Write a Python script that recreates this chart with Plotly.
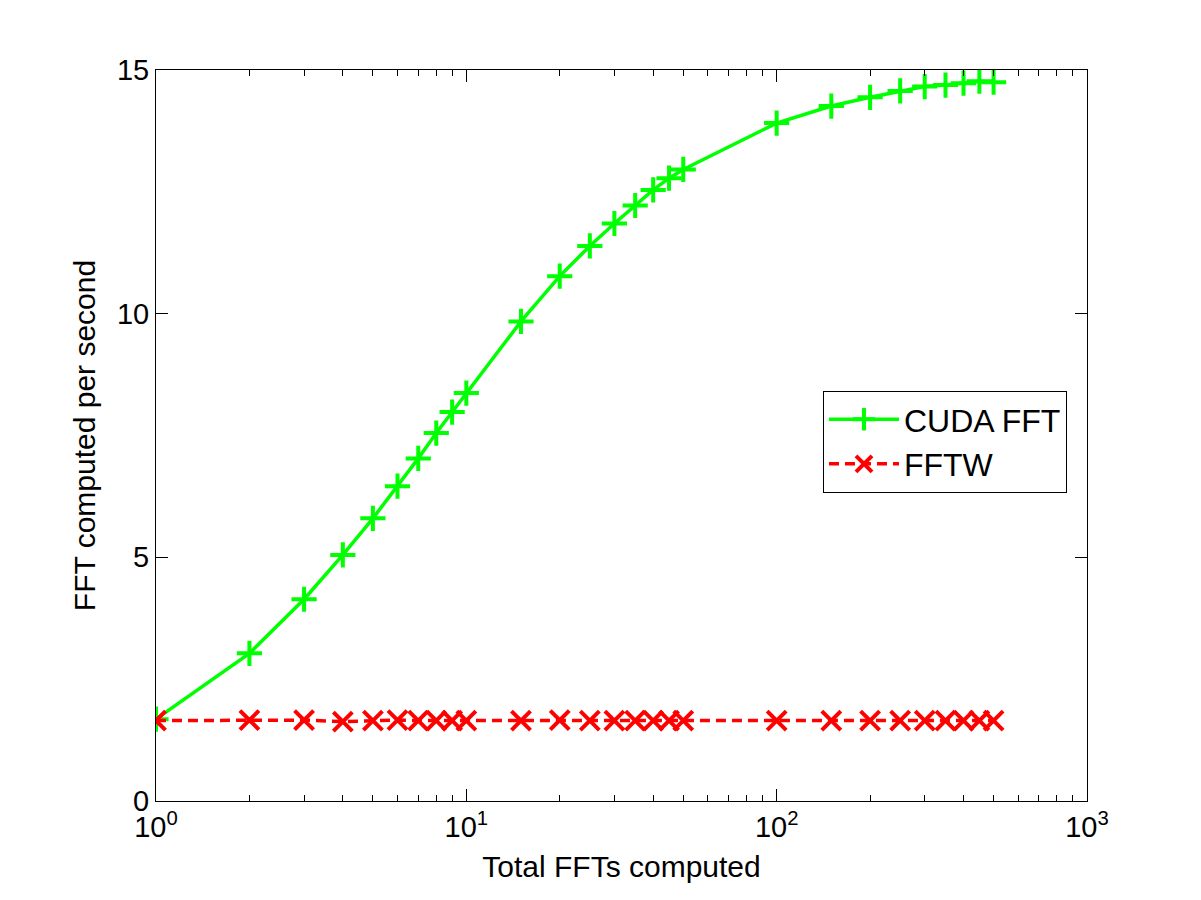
import plotly.graph_objects as go

# nombre total de FFT calculees (axe x, log)
n_fft = [1, 2, 3, 4, 5, 6, 7, 8, 9, 10, 15, 20, 25, 30, 35, 40, 45, 50,
         100, 150, 200, 250, 300, 350, 400, 450, 500]
cuda_fft = [1.68, 3.03, 4.14, 5.05, 5.80, 6.46, 7.03, 7.55, 7.98, 8.37,
            9.84, 10.77, 11.39, 11.85, 12.22, 12.54, 12.78, 12.96,
            13.91, 14.26, 14.44, 14.57, 14.66, 14.69, 14.73, 14.77, 14.75]
fftw = [1.65, 1.66, 1.66, 1.63, 1.65, 1.66, 1.65, 1.65, 1.65, 1.65,
        1.65, 1.66, 1.65, 1.65, 1.65, 1.65, 1.65, 1.65,
        1.65, 1.65, 1.65, 1.65, 1.65, 1.65, 1.65, 1.65, 1.65]

x_major = [1, 10, 100, 1000]
x_major_text = ['10<sup>0</sup>', '10<sup>1</sup>', '10<sup>2</sup>', '10<sup>3</sup>']
x_minor = [k * 10 ** d for d in range(3) for k in range(2, 10)]
y_ticks = [0, 5, 10, 15]

font_name = 'Liberation Sans, Arial, sans-serif'

fig = go.Figure()
fig.add_trace(go.Scatter(x=n_fft, y=cuda_fft, name='CUDA FFT', mode='lines+markers',
                         line=dict(color='#00ff00', width=3.5),
                         marker=dict(symbol='cross-thin', size=18,
                                     line=dict(color='#00ff00', width=4))))
fig.add_trace(go.Scatter(x=n_fft, y=fftw, name='FFTW', mode='lines+markers',
                         line=dict(color='#ff0000', width=3.5, dash='10px,6px'),
                         marker=dict(symbol='x-thin', size=19,
                                     line=dict(color='#ff0000', width=4))))

fig.update_xaxes(type='log', range=[0, 3], tickvals=x_major, ticktext=x_major_text,
                 ticks='inside', ticklen=12, tickcolor='black', mirror='ticks',
                 showline=True, linecolor='black', linewidth=1, showgrid=False,
                 zeroline=False, tickfont=dict(size=29),
                 minor=dict(tickvals=x_minor, ticks='inside', ticklen=6, tickcolor='black'),
                 title=dict(text='Total FFTs computed', font=dict(size=30), standoff=14))
fig.update_yaxes(range=[0, 15], tickvals=y_ticks,
                 ticks='inside', ticklen=12, tickcolor='black', mirror='ticks',
                 showline=True, linecolor='black', linewidth=1, showgrid=False,
                 zeroline=False, tickfont=dict(size=29),
                 title=dict(text='FFT computed per second', font=dict(size=30), standoff=12))
# la page ajoute ~8 px de marge au body : on compense ici
fig.update_layout(width=1201, height=900,
                  margin=dict(l=148, r=122, t=62, b=107),
                  paper_bgcolor='white', plot_bgcolor='white',
                  font=dict(family=font_name, color='black', size=29),
                  showlegend=True,
                  legend=dict(x=0.9785, y=0.561, xanchor='right', yanchor='top',
                              bordercolor='black', borderwidth=1, bgcolor='white',
                              font=dict(size=32), tracegroupgap=0, itemwidth=70))

fig.write_html('out.html')
